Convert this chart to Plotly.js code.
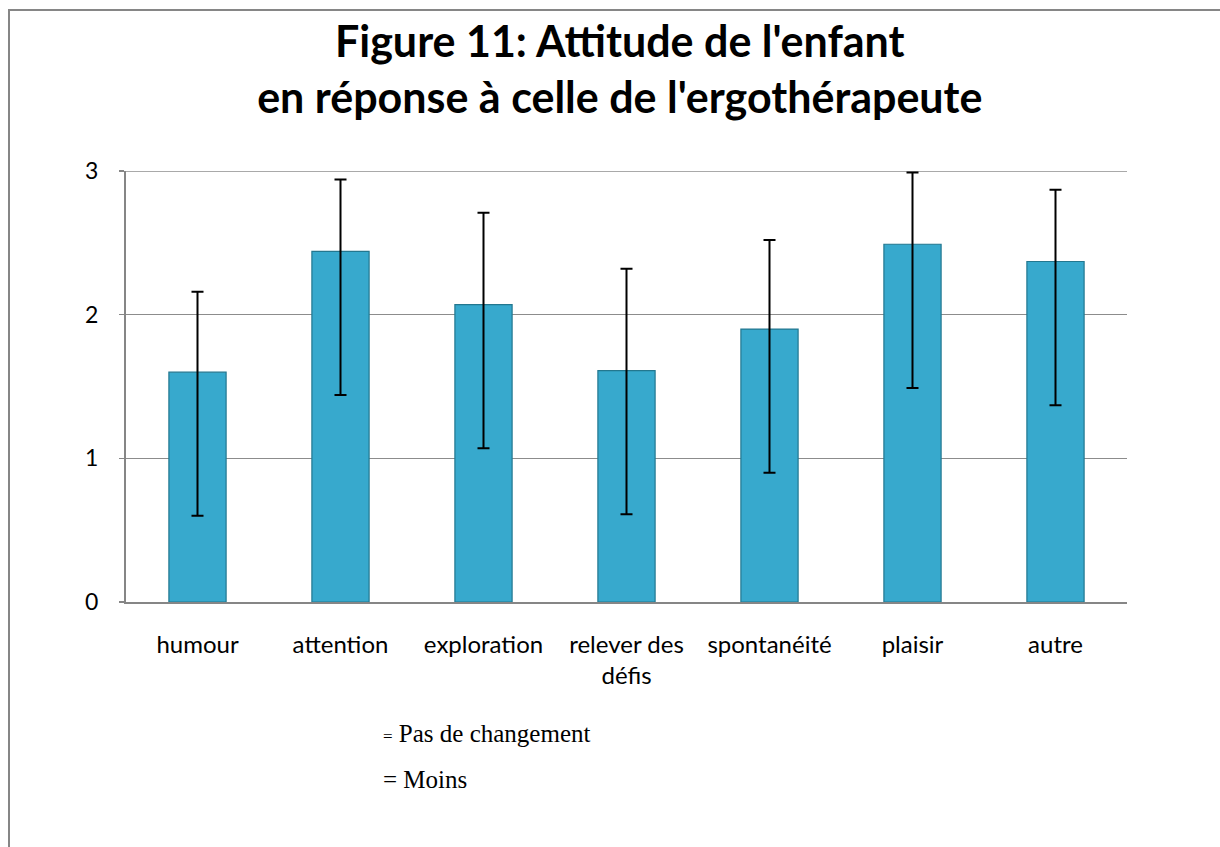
<!DOCTYPE html>
<html>
<head>
<meta charset="utf-8">
<script src="https://cdn.plot.ly/plotly-3.0.1.min.js"></script>
<style>
  html, body { margin: 0; padding: 0; background: #ffffff; }
  #wrap { position: relative; width: 1220px; height: 847px; overflow: hidden; }
  #frame { position: absolute; left: 8px; top: 9px; width: 1300px; height: 900px;
           border-left: 2px solid #868686; border-top: 2px solid #868686; pointer-events: none; z-index: 5; }
  #chart { position: absolute; left: 0; top: 0; width: 1220px; height: 847px; }
</style>
</head>
<body>
<div id="wrap">
  <div id="chart"></div>
  <div id="frame"></div>
</div>
<script>
const categories = ["humour", "attention", "exploration", "relever des<br>défis", "spontanéité", "plaisir", "autre"];
const means = [1.60, 2.44, 2.07, 1.61, 1.90, 2.49, 2.37];
const errPlus = [0.56, 0.50, 0.64, 0.71, 0.62, 0.50, 0.50];
const errMinus = [1.0, 1.0, 1.0, 1.0, 1.0, 1.0, 1.0];
const yTicks = [0, 1, 2, 3];
const titleText = "Figure 11: Attitude de l'enfant<br>en réponse à celle de l'ergothérapeute";
const legendLines = ["<span style='font-size:17px'>=</span> Pas de changement", "= Moins"];

const trace = {
  type: "bar",
  x: categories,
  y: means,
  width: 0.4,
  marker: { color: "#37a9cd", line: { color: "#23778f", width: 1.2 } },
  error_y: {
    type: "data", symmetric: false,
    array: errPlus, arrayminus: errMinus,
    color: "#000000", thickness: 2, width: 6, visible: true
  },
  hoverinfo: "x+y"
};

const layout = {
  width: 1220, height: 847,
  margin: { l: 126, r: 93, t: 171, b: 245 },
  paper_bgcolor: "#ffffff",
  plot_bgcolor: "#ffffff",
  showlegend: false,
  title: {
    text: titleText,
    font: { family: "Lato, 'Open Sans', sans-serif", size: 43, color: "#000000", weight: "bold" },
    x: 0.508, xref: "container", xanchor: "center",
    y: 0.933, yref: "container", yanchor: "top"
  },
  font: { family: "Lato, 'Open Sans', sans-serif", size: 24, color: "#000000" },
  xaxis: {
    type: "category",
    showline: true, linecolor: "#868686", linewidth: 2,
    showgrid: false, ticks: "", ticklabelstandoff: 20,
    tickfont: { size: 24 }, fixedrange: true
  },
  yaxis: {
    range: [0, 3], tickvals: yTicks, ticktext: yTicks.map(String),
    showline: true, linecolor: "#868686", linewidth: 2,
    showgrid: true, gridcolor: "#8c8c8c", gridwidth: 1.5,
    zeroline: false, ticks: "outside", ticklen: 5, tickcolor: "#868686", tickwidth: 1.5,
    ticklabelstandoff: 16, tickfont: { size: 23 }, fixedrange: true
  },
  shapes: [
    { type: "line", xref: "paper", yref: "y", x0: 0, x1: 1, y0: yTicks[yTicks.length - 1], y1: yTicks[yTicks.length - 1],
      line: { color: "#8c8c8c", width: 1.5 }, layer: "below" }
  ],
  annotations: [
    { text: legendLines[0], xref: "paper", yref: "paper", x: 0.255, y: -0.304,
      xanchor: "left", yanchor: "middle", showarrow: false,
      font: { family: "'Liberation Serif', 'DejaVu Serif', serif", size: 25, color: "#000000" } },
    { text: legendLines[1], xref: "paper", yref: "paper", x: 0.255, y: -0.411,
      xanchor: "left", yanchor: "middle", showarrow: false,
      font: { family: "'Liberation Serif', 'DejaVu Serif', serif", size: 25, color: "#000000" } }
  ]
};

Plotly.newPlot("chart", [trace], layout, { displayModeBar: false, staticPlot: true });
</script>
</body>
</html>
